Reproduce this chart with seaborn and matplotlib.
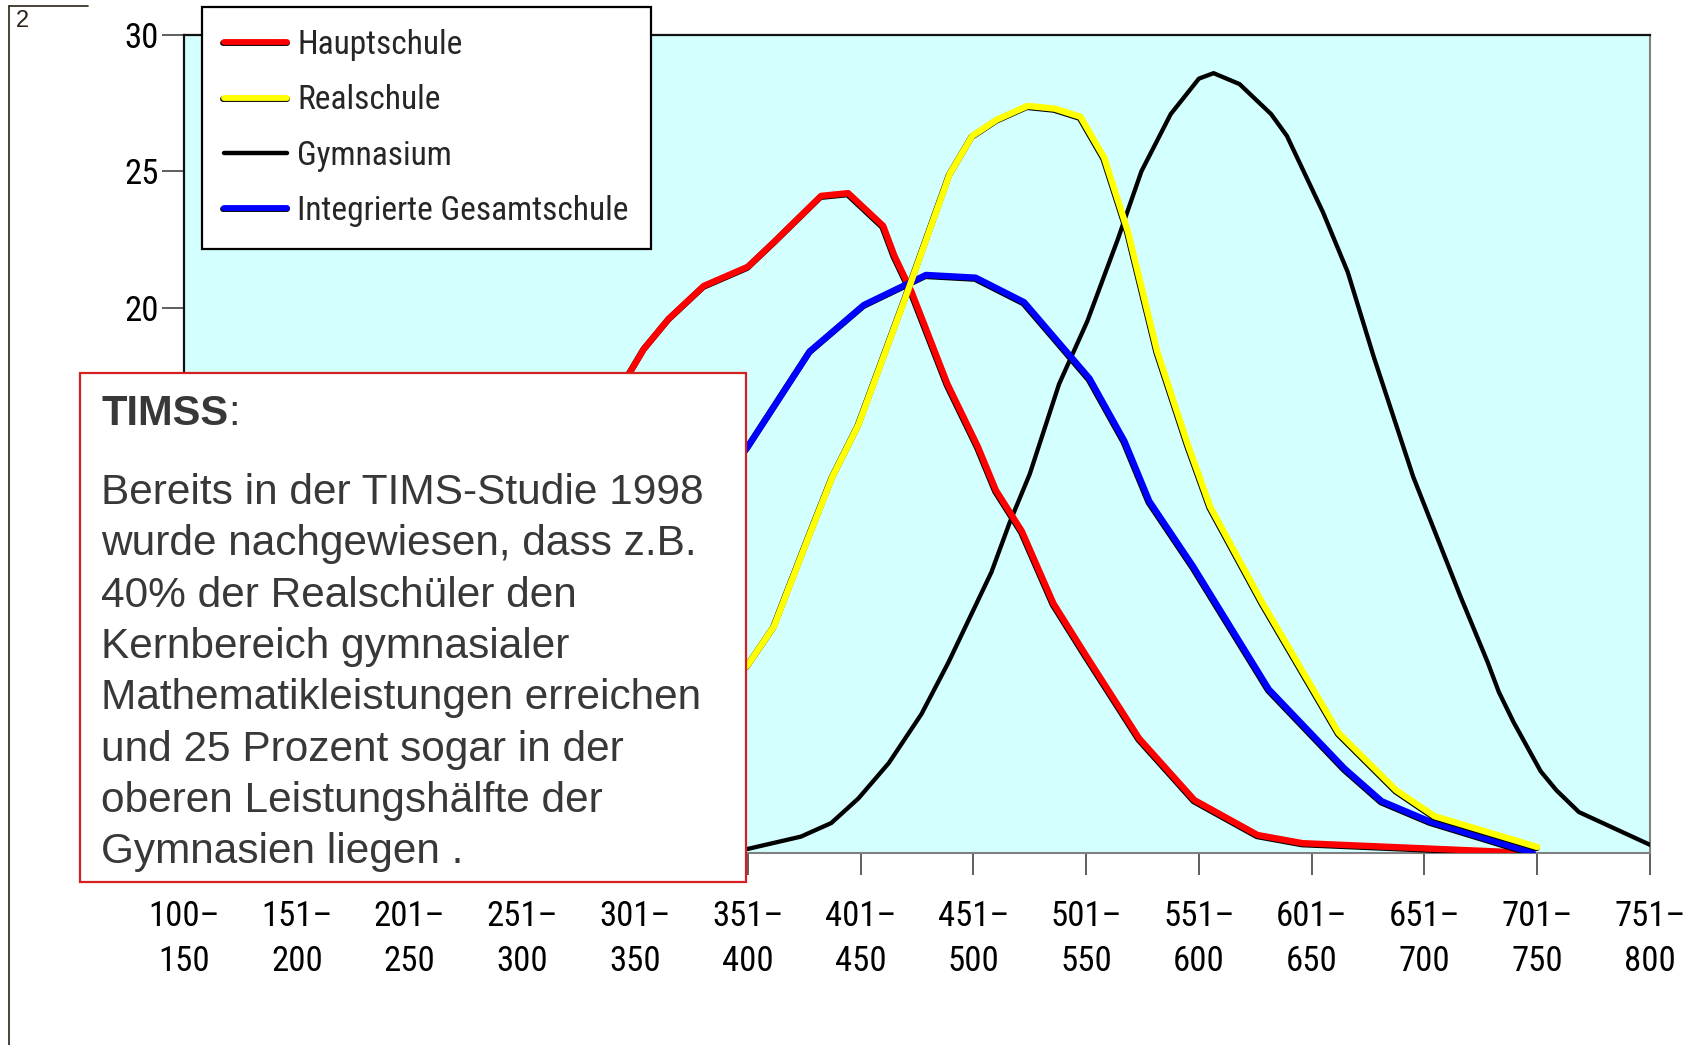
import numpy as np
import pandas as pd
import matplotlib
matplotlib.use("Agg")
import matplotlib.pyplot as plt
import matplotlib.patheffects as pe
from matplotlib import font_manager as fm
from matplotlib.lines import Line2D
from matplotlib.patches import Rectangle
import seaborn as sns

# ---------------- data ----------------
categories = ["100–\n150", "151–\n200", "201–\n250", "251–\n300", "301–\n350",
              "351–\n400", "401–\n450", "451–\n500", "501–\n550", "551–\n600",
              "601–\n650", "651–\n700", "701–\n750", "751–\n800"]
category_centres = [125, 175, 225, 275, 325, 375, 425, 475, 525, 575, 625, 675, 725, 775]
y_ticks = [0, 5, 10, 15, 20, 25, 30]
y_tick_labels = ["", "", "", "", "20", "25", "30"]   # lower ones lie under the note box

haupt_x = [125, 175, 225, 275, 300, 322.5, 329, 340, 355.5, 375, 386.5, 407.5, 419.5,
           435, 440, 447.5, 463.5, 477, 485, 496.5, 510.5, 524.5, 548.5, 573, 601, 621, 723]
haupt_y = [0.2, 1.0, 3.5, 9.0, 13.5, 17.6, 18.5, 19.6, 20.8, 21.5, 22.4, 24.1, 24.2,
           23.0, 21.9, 20.6, 17.2, 14.9, 13.3, 11.8, 9.15, 7.3, 4.2, 1.94, 0.66, 0.36, 0.0]

real_x = [125, 175, 225, 275, 325, 375, 386.5, 401.5, 412.5, 424, 445, 464.5, 474.5,
          485.5, 499, 511, 522.5, 533, 543.5, 556.5, 570, 580, 603, 637, 662.5, 679.5, 725]
real_y = [0.0, 0.0, 0.1, 0.8, 3.0, 6.9, 8.3, 11.5, 13.8, 15.7, 20.4, 24.9, 26.3,
          26.9, 27.4, 27.3, 27.0, 25.5, 22.8, 18.4, 15.0, 12.7, 9.2, 4.4, 2.3, 1.35, 0.22]

gym_x = [125, 175, 225, 275, 325, 375, 398.5, 412, 424, 437.5, 452, 464, 483, 491, 500,
         513, 525.5, 539, 549.5, 562.5, 575, 581.5, 593, 607, 614, 630, 641, 652.5, 670,
         691, 703, 708, 714.5, 726.5, 733.5, 743.5, 775]
gym_y = [0.0, 0.0, 0.0, 0.0, 0.05, 0.15, 0.6, 1.1, 2.0, 3.3, 5.1, 7.0, 10.3, 12.1, 13.9,
         17.2, 19.5, 22.5, 25.0, 27.1, 28.4, 28.6, 28.2, 27.1, 26.3, 23.5, 21.3, 18.2, 13.8,
         9.4, 7.0, 5.9, 4.8, 3.0, 2.3, 1.5, 0.3]

ges_x = [125, 175, 225, 275, 325, 375, 402.5, 426.5, 454, 476, 497.5, 526.5, 542, 553,
         572.5, 606, 639.5, 656, 677.5, 723]
ges_y = [0.0, 0.3, 1.5, 4.5, 9.5, 14.9, 18.4, 20.1, 21.2, 21.1, 20.2, 17.4, 15.1, 12.9,
         10.5, 6.0, 3.1, 1.9, 1.15, 0.0]

series_names = ["Hauptschule", "Realschule", "Gymnasium", "Integrierte Gesamtschule"]

note_title = "TIMSS"
note_lines = ["Bereits in der TIMS-Studie 1998",
              "wurde nachgewiesen, dass z.B.",
              "40% der Realschüler den",
              "Kernbereich gymnasialer",
              "Mathematikleistungen erreichen",
              "und 25 Prozent sogar in der",
              "oberen Leistungshälfte der",
              "Gymnasien liegen ."]

df = pd.concat([
    pd.DataFrame({"score": haupt_x, "pct": haupt_y, "school": series_names[0]}),
    pd.DataFrame({"score": real_x, "pct": real_y, "school": series_names[1]}),
    pd.DataFrame({"score": gym_x, "pct": gym_y, "school": series_names[2]}),
    pd.DataFrame({"score": ges_x, "pct": ges_y, "school": series_names[3]}),
], ignore_index=True)

# ---------------- style ----------------
sns.set_theme(style="white")
plt.rcParams["font.family"] = ["Liberation Sans", "DejaVu Sans"]

avail = {f.name for f in fm.fontManager.ttflist}
cond_name = next((f for f in ["Roboto Condensed", "Liberation Sans Narrow", "Open Sans Condensed"]
                  if f in avail), None)

def cond_font(size):
    if cond_name:
        return fm.FontProperties(family=cond_name, size=size)
    return fm.FontProperties(family="DejaVu Sans", stretch="condensed", size=size)

W, H = 1704, 1045
fig = plt.figure(figsize=(W / 100, H / 100), dpi=100)
fig.patch.set_facecolor("white")

def fx(px):
    return px / W

def fy(py):
    return 1 - py / H

ax = fig.add_axes([fx(184), fy(853), fx(1650) - fx(184), fy(35) - fy(853)])
ax.set_facecolor("#D4FFFF")

colors = {"Hauptschule": "#FF0000", "Realschule": "#FFFF00",
          "Gymnasium": "#000000", "Integrierte Gesamtschule": "#0000FF"}
widths = {"Hauptschule": 4.6, "Realschule": 4.6, "Gymnasium": 3.1,
          "Integrierte Gesamtschule": 4.6}
draw_order = ["Gymnasium", "Hauptschule", "Integrierte Gesamtschule", "Realschule"]
shadow = [pe.SimpleLineShadow(offset=(-0.5, -0.7), shadow_color="black", alpha=1.0), pe.Normal()]

for z, name in enumerate(draw_order):
    sub = df[df["school"] == name]
    sns.lineplot(data=sub, x="score", y="pct", ax=ax, color=colors[name],
                 linewidth=widths[name], estimator=None, sort=False, legend=False,
                 zorder=3 + z)
    ln = ax.lines[-1]
    if name != "Gymnasium":
        ln.set_path_effects(shadow)
    ln.set_solid_joinstyle("round")

ax.set_xlim(125, 775)
ax.set_ylim(0, 30)
ax.set_xlabel("")
ax.set_ylabel("")
ax.set_xticks(category_centres)
ax.set_xticklabels(categories, fontproperties=cond_font(25), linespacing=1.45)
ax.set_yticks(y_ticks)
ax.set_yticklabels(y_tick_labels, fontproperties=cond_font(25))
ax.tick_params(axis="x", direction="out", length=16, width=1.1, color="#333333",
               pad=18, labelcolor="black")
ax.tick_params(axis="y", direction="out", length=16, width=1.1, color="#333333",
               pad=2, labelcolor="black")
ax.xaxis.set_ticks_position("bottom")
ax.yaxis.set_ticks_position("left")
for side in ["top", "left"]:
    ax.spines[side].set_color("#111111")
    ax.spines[side].set_linewidth(1.6)
for side in ["right", "bottom"]:
    ax.spines[side].set_color("#808080")
    ax.spines[side].set_linewidth(1.5)

# legend
legend_order = ["Hauptschule", "Realschule", "Gymnasium", "Integrierte Gesamtschule"]
handles = []
for name in legend_order:
    h = Line2D([0], [0], color=colors[name], linewidth=4.2 if name != "Gymnasium" else 3.2)
    if name != "Gymnasium":
        h.set_path_effects(shadow)
    handles.append(h)
leg = ax.legend(handles, legend_order, loc="upper left",
                bbox_to_anchor=(fx(202), fy(7)), bbox_transform=fig.transFigure,
                borderaxespad=0, frameon=True, fancybox=False, framealpha=1,
                edgecolor="black", facecolor="white", prop=cond_font(24),
                handlelength=1.9, handletextpad=0.3, labelspacing=0.70,
                borderpad=0.66)
leg.get_frame().set_linewidth(1.6)
leg.set_zorder(20)

# note box (over the axes)
box = Rectangle((fx(80), fy(882)), fx(745.5) - fx(80), fy(373) - fy(882),
                transform=fig.transFigure, facecolor="white", edgecolor="#D42020",
                linewidth=1.6, zorder=30)
fig.patches.append(box)

txt_col = "#383838"
fam = ["Liberation Sans", "DejaVu Sans"]
t = fig.text(fx(101), fy(414), note_title, fontsize=30, fontweight="bold",
             color=txt_col, ha="left", va="center", zorder=31, family=fam)
colon = fig.text(0, 0, ":", fontsize=30, color=txt_col, zorder=31, family=fam,
                 ha="left", va="bottom")
fig.canvas.draw()
bb = t.get_window_extent()
colon.set_position((bb.x1 / W, bb.y0 / H))

for i, line in enumerate(note_lines):
    fig.text(fx(101), fy(493 + i * 51.3), line, fontsize=30.5, color=txt_col,
             ha="left", va="center", zorder=31, family=fam)

# page-corner marks
fig.add_artist(Line2D([fx(9), fx(9)], [fy(6), fy(1045)], transform=fig.transFigure,
                      color="#2b2218", linewidth=1.2))
fig.add_artist(Line2D([fx(9), fx(88)], [fy(6), fy(6)], transform=fig.transFigure,
                      color="#2b2218", linewidth=1.2))
fig.text(fx(16), fy(21), "2", fontsize=17, color="#2b2218", ha="left", va="center",
         family=fam)

fig.savefig("out.png", dpi=100)
